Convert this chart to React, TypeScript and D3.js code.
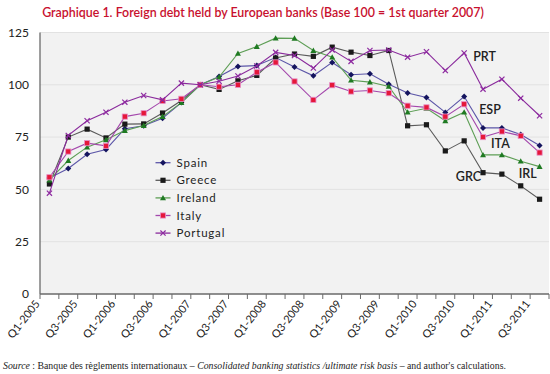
import React from "react";
import * as d3 from "d3";

const quarters = [
  "Q1-2005","Q2-2005","Q3-2005","Q4-2005",
  "Q1-2006","Q2-2006","Q3-2006","Q4-2006",
  "Q1-2007","Q2-2007","Q3-2007","Q4-2007",
  "Q1-2008","Q2-2008","Q3-2008","Q4-2008",
  "Q1-2009","Q2-2009","Q3-2009","Q4-2009",
  "Q1-2010","Q2-2010","Q3-2010","Q4-2010",
  "Q1-2011","Q2-2011","Q3-2011",
];
const yTicks = [0, 25, 50, 75, 100, 125];

const spain = [55.4, 60, 66.8, 69.1, 79, 80.4, 84, 91.5, 100, 104, 108.8, 109.2, 113, 108.5, 104.3, 110.7, 104.8, 105.3, 100.3, 96.1, 93.9, 86.8, 94.4, 79.4, 79.4, 76.2, 71];
const greece = [52.6, 75, 78.8, 74.6, 81.2, 81.3, 86.5, 92.5, 100, 97.8, 101.9, 104.5, 112.8, 114.7, 113.6, 118, 115.6, 114, 116.4, 80.4, 80.9, 68.4, 73.2, 58, 57.3, 51.7, 45.3];
const ireland = [54.5, 63.8, 70.2, 73.7, 78.1, 80.5, 84.8, 91.5, 100, 103.7, 115, 118.3, 122.3, 122.2, 116.4, 113.2, 102.2, 101.3, 99.2, 86.9, 88.8, 82.8, 86.9, 66.5, 66.5, 63.5, 60.9];
const italy = [55.8, 68.1, 72.1, 70.8, 84.8, 86.4, 92.3, 93.3, 100, 99.1, 100, 106, 110.7, 101.6, 92.8, 99.8, 96.8, 97.3, 96, 90, 89.2, 84.8, 90.7, 75, 77.7, 75.6, 67.6];
const portugal = [48.2, 75.8, 82.8, 86.9, 91.7, 94.9, 92.8, 100.8, 100, 101.7, 104.2, 109, 115.5, 114, 108, 116.7, 111.2, 116.4, 116.6, 113.2, 115.8, 106.8, 115.2, 97.9, 102.7, 93.6, 85.2];

const seriesNames = ["Spain", "Greece", "Ireland", "Italy", "Portugal"];
const seriesValues = [spain, greece, ireland, italy, portugal];
const lineColors = ["#5c56a8", "#5a5a5a", "#5d9e55", "#a448ac", "#8a2a9c"];
const markerColors = ["#14145e", "#1a1a1a", "#1f7a22", "#e5173a", "#8e2aa0"];
const markerTypes = ["diamond", "square", "triangle", "square", "x"];

// country code annotations: anchored near a quarter and a value on the chart
const endLabels = [
  { text: "PRT", q: "Q3-2010", v: 113.5, dx: 9 },
  { text: "ESP", q: "Q3-2010", v: 88, dx: 15 },
  { text: "ITA", q: "Q4-2010", v: 72, dx: 8 },
  { text: "GRC", q: "Q2-2010", v: 56, dx: 10.5 },
  { text: "IRL", q: "Q2-2011", v: 57.7, dx: -2 },
];

const W = 550, H = 374;
const left = 40, right = 549, top = 32.5, bottom = 294;

function Marker({ type, x, y, fill, ital }: any) {
  if (type === "diamond") {
    const s = 3;
    return <path d={`M${x},${y - s}L${x + s},${y}L${x},${y + s}L${x - s},${y}Z`} fill={fill} />;
  }
  if (type === "square") {
    const s = 2.6;
    return <rect x={x - s} y={y - s} width={2 * s} height={2 * s} fill={fill}
      stroke={ital ? "#e890c8" : "none"} strokeWidth={ital ? 0.8 : 0} />;
  }
  if (type === "triangle") {
    const s = 3;
    return <path d={`M${x},${y - s}L${x + s},${y + s * 0.8}L${x - s},${y + s * 0.8}Z`} fill={fill} />;
  }
  const s = 2.6;
  return <path d={`M${x - s},${y - s}L${x + s},${y + s}M${x - s},${y + s}L${x + s},${y - s}`} stroke={fill} strokeWidth={1.2} fill="none" />;
}

export default function App() {
  const x = d3.scaleBand<string>().domain(quarters).range([left, right]).paddingInner(0).paddingOuter(0);
  const y = d3.scaleLinear().domain([0, 125]).range([bottom, top]);
  const cx = (q: string) => (x(q) as number) + x.bandwidth() / 2;
  const line = d3.line<number>().x((_, i) => cx(quarters[i])).y((v) => y(v));
  const font = "Lato, 'Open Sans', sans-serif";
  const boundaries = quarters.map((q) => x(q) as number).concat([right]);

  return (
    <svg width={W} height={H} style={{ position: "absolute", left: 0, top: 0, background: "#fff" }} fontFamily={font}>
      <text x={263} y={17} textAnchor="middle" fill="#c8102e" fontSize={12.4} fontWeight={600}>
        Graphique 1. Foreign debt held by European banks (Base 100 = 1st quarter 2007)
      </text>
      <rect x={left} y={top} width={right - left} height={bottom - top} fill="#f2f2f2" />
      {yTicks.map((t) => (
        <g key={t}>
          {t > 0 && <line x1={left} x2={right} y1={y(t)} y2={y(t)} stroke="#e2e2e2" strokeWidth={1} />}
          <text x={29} y={y(t)} dy="0.35em" textAnchor="end" fontSize={12} fill="#222">{t}</text>
        </g>
      ))}
      <line x1={left} x2={left} y1={top} y2={bottom} stroke="#6a6a6a" strokeWidth={1.3} />
      <line x1={left} x2={right} y1={bottom} y2={bottom} stroke="#6a6a6a" strokeWidth={1.3} />
      {boundaries.map((b, i) => (
        <line key={i} x1={b} x2={b} y1={bottom} y2={bottom + 5} stroke="#6a6a6a" strokeWidth={1} />
      ))}
      {quarters.map((q, i) => i % 2 === 0 ? (
        <text key={q} transform={`translate(${cx(q) - 9},${bottom + 10}) rotate(-52)`} textAnchor="end"
          fontSize={11} fill="#222">{q}</text>
      ) : null)}
      {seriesValues.map((vals, si) => (
        <g key={si}>
          <path d={line(vals) as string} fill="none" stroke={lineColors[si]} strokeWidth={1.1} />
          {vals.map((v, i) => (
            <Marker key={i} type={markerTypes[si]} x={cx(quarters[i])} y={y(v)} fill={markerColors[si]} ital={si === 3} />
          ))}
        </g>
      ))}
      {seriesNames.map((n, i) => {
        const ly = 162.7 + i * 17.6;
        return (
          <g key={n}>
            <line x1={155.5} x2={170.5} y1={ly} y2={ly} stroke={lineColors[i]} strokeWidth={1.3} />
            <Marker type={markerTypes[i]} x={163} y={ly} fill={markerColors[i]} ital={i === 3} />
            <text x={176.5} y={ly} dy="0.36em" fontSize={11.5} letterSpacing={0.8} fill="#222">{n}</text>
          </g>
        );
      })}
      {endLabels.map((l) => (
        <text key={l.text} x={cx(l.q) + l.dx} y={y(l.v)} dy="0.35em"
          fontSize={12.5} fontWeight={600} fill="#222">{l.text}</text>
      ))}
      <text x={3} y={369} fontFamily="'Liberation Serif', 'DejaVu Serif', serif" fontSize={9.8} fill="#222">
        <tspan fontStyle="italic">Source</tspan>
        <tspan> : Banque des règlements internationaux – </tspan>
        <tspan fontStyle="italic">Consolidated banking statistics /ultimate risk basis</tspan>
        <tspan> – and author's calculations.</tspan>
      </text>
    </svg>
  );
}
